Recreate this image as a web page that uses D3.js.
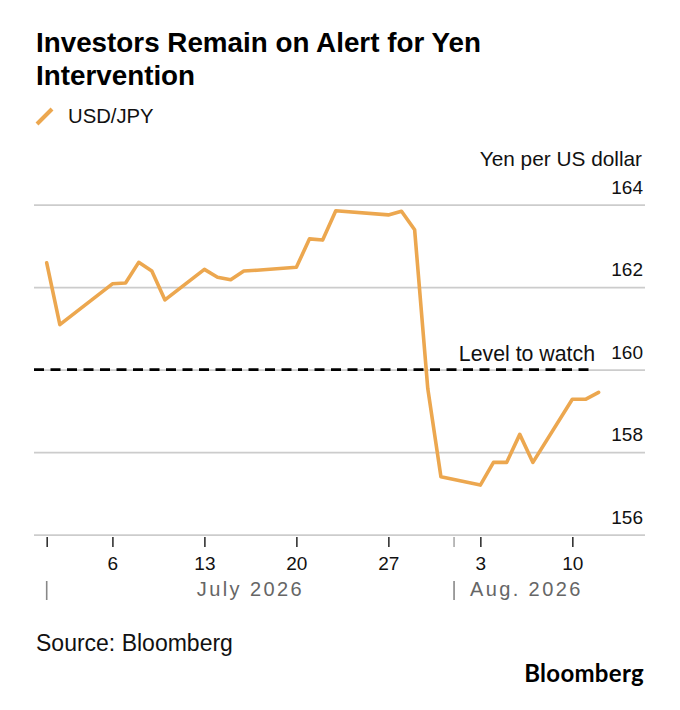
<!DOCTYPE html>
<html>
<head>
<meta charset="utf-8">
<script src="https://cdn.jsdelivr.net/npm/d3@7.9.0/dist/d3.min.js"></script>
<style>
  body { margin: 0; background: #fff; }
  svg { display: block; font-family: "Liberation Sans", Arial, sans-serif; }
</style>
</head>
<body>
<svg id="chart" width="680" height="710"></svg>
<script>
// USD/JPY daily closes
const dates = [
  "2026-07-01", "2026-07-02", "2026-07-06", "2026-07-07", "2026-07-08",
  "2026-07-09", "2026-07-10", "2026-07-13", "2026-07-14", "2026-07-15",
  "2026-07-16", "2026-07-17", "2026-07-20", "2026-07-21", "2026-07-22",
  "2026-07-23", "2026-07-27", "2026-07-28", "2026-07-29", "2026-07-30",
  "2026-07-31", "2026-08-03", "2026-08-04", "2026-08-05", "2026-08-06",
  "2026-08-07", "2026-08-10", "2026-08-11", "2026-08-12"
];
const usdJpy = [
  162.59, 161.09, 162.08, 162.10, 162.60,
  162.39, 161.69, 162.43, 162.24, 162.18,
  162.39, 162.41, 162.48, 163.17, 163.14,
  163.85, 163.75, 163.84, 163.39, 159.54,
  157.40, 157.20, 157.75, 157.75, 158.43,
  157.75, 159.28, 159.28, 159.45
];

// axis ticks
const yTicks = [156, 158, 160, 162, 164];
const xTicks = ["2026-07-01", "2026-07-06", "2026-07-13", "2026-07-20", "2026-07-27", "2026-08-03", "2026-08-10"];
const monthLabels = ["July 2026", "Aug. 2026"];
const monthStarts = ["2026-07-01", "2026-08-01"];
const monthEnds = ["2026-08-01", "2026-08-12"];

const watchLevel = 160;

const parse = d3.utcParse("%Y-%m-%d");
const data = dates.map((d, i) => ({ date: parse(d), value: usdJpy[i] }));

const svg = d3.select("#chart");
const orange = "#eca74f";

// plot frame
const left = 34, right = 645;

const x = d3.scaleUtc()
  .domain([parse("2026-07-01"), parse("2026-08-12")])
  .range([46.7, 598.6]);

const y = d3.scaleLinear()
  .domain([156, 164])
  .range([534.6, 204.6]);

// =============== TITLE + LEGEND ===============
const title = svg.append("text")
  .attr("x", 36)
  .attr("font-size", 27.8)
  .attr("font-weight", "bold")
  .attr("fill", "#000");
title.append("tspan").attr("x", 36).attr("y", 52).text("Investors Remain on Alert for Yen");
title.append("tspan").attr("x", 36).attr("y", 85).text("Intervention");

svg.append("line")
  .attr("x1", 37).attr("y1", 124)
  .attr("x2", 52).attr("y2", 109)
  .attr("stroke", orange)
  .attr("stroke-width", 4);

svg.append("text")
  .attr("x", 68).attr("y", 123)
  .attr("font-size", 20.3)
  .attr("fill", "#111")
  .text("USD/JPY");

svg.append("text")
  .attr("x", 642).attr("y", 166)
  .attr("text-anchor", "end")
  .attr("font-size", 20.8)
  .attr("fill", "#111")
  .text("Yen per US dollar");

// =============== Y GRID ===============
const yAxis = svg.append("g")
  .attr("transform", `translate(${right},0)`)
  .call(d3.axisLeft(y).tickValues(yTicks).tickSize(right - left).tickFormat(d3.format("d")));

yAxis.select(".domain").remove();
yAxis.selectAll(".tick line")
  .attr("stroke", "#cccccc")
  .attr("stroke-width", 1.6);
yAxis.selectAll(".tick text")
  .attr("x", -2)
  .attr("dy", -11.5)
  .attr("font-size", 19)
  .attr("font-family", "Liberation Sans, Arial, sans-serif")
  .attr("fill", "#111");

// =============== LEVEL TO WATCH ===============
svg.append("line")
  .attr("x1", left).attr("x2", 593)
  .attr("y1", y(watchLevel)).attr("y2", y(watchLevel))
  .attr("stroke", "#000")
  .attr("stroke-width", 2.6)
  .attr("stroke-dasharray", "10,6.5");

svg.append("text")
  .attr("x", 595).attr("y", y(watchLevel) - 8.5)
  .attr("text-anchor", "end")
  .attr("font-size", 21.3)
  .attr("fill", "#111")
  .text("Level to watch");

// =============== X AXIS ===============
const xAxis = svg.append("g")
  .attr("transform", "translate(0,537)")
  .call(d3.axisBottom(x)
    .tickValues(xTicks.map(parse))
    .tickSize(10)
    .tickFormat((d, i) => i === 0 ? "" : d3.utcFormat("%-d")(d)));

xAxis.select(".domain").remove();
xAxis.selectAll(".tick line")
  .attr("stroke", "#333")
  .attr("stroke-width", 1.6);
xAxis.selectAll(".tick text")
  .attr("y", 33)
  .attr("dy", 0)
  .attr("font-size", 19)
  .attr("font-family", "Liberation Sans, Arial, sans-serif")
  .attr("fill", "#111");

// light month-boundary tick
svg.append("line")
  .attr("x1", x(parse("2026-08-01"))).attr("x2", x(parse("2026-08-01")))
  .attr("y1", 537).attr("y2", 547)
  .attr("stroke", "#aaa")
  .attr("stroke-width", 1.6);

// month row
const months = svg.append("g").selectAll("g")
  .data(monthLabels)
  .enter()
  .append("g");

months.append("line")
  .attr("x1", (d, i) => x(parse(monthStarts[i])))
  .attr("x2", (d, i) => x(parse(monthStarts[i])))
  .attr("y1", 581).attr("y2", 600)
  .attr("stroke", "#888")
  .attr("stroke-width", 1.6);

months.append("text")
  .attr("x", (d, i) => (x(parse(monthStarts[i])) + x(parse(monthEnds[i]))) / 2)
  .attr("y", 596)
  .attr("text-anchor", "middle")
  .attr("font-size", 20)
  .attr("letter-spacing", 2.4)
  .attr("fill", "#666")
  .text(d => d);

// =============== LINE ===============
const line = d3.line()
  .x(d => x(d.date))
  .y(d => y(d.value));

svg.append("path")
  .datum(data)
  .attr("d", line)
  .attr("fill", "none")
  .attr("stroke", orange)
  .attr("stroke-width", 3.6)
  .attr("stroke-linejoin", "round")
  .attr("stroke-linecap", "round");

// =============== FOOTER ===============
svg.append("text")
  .attr("x", 36).attr("y", 651)
  .attr("font-size", 23)
  .attr("fill", "#111")
  .text("Source: Bloomberg");

svg.append("text")
  .attr("x", 644).attr("y", 682)
  .attr("text-anchor", "end")
  .attr("font-family", "Lato, 'Liberation Sans', sans-serif")
  .attr("font-size", 24)
  .attr("font-weight", "bold")
  .attr("letter-spacing", 0.3)
  .attr("fill", "#000")
  .text("Bloomberg");
</script>
</body>
</html>
